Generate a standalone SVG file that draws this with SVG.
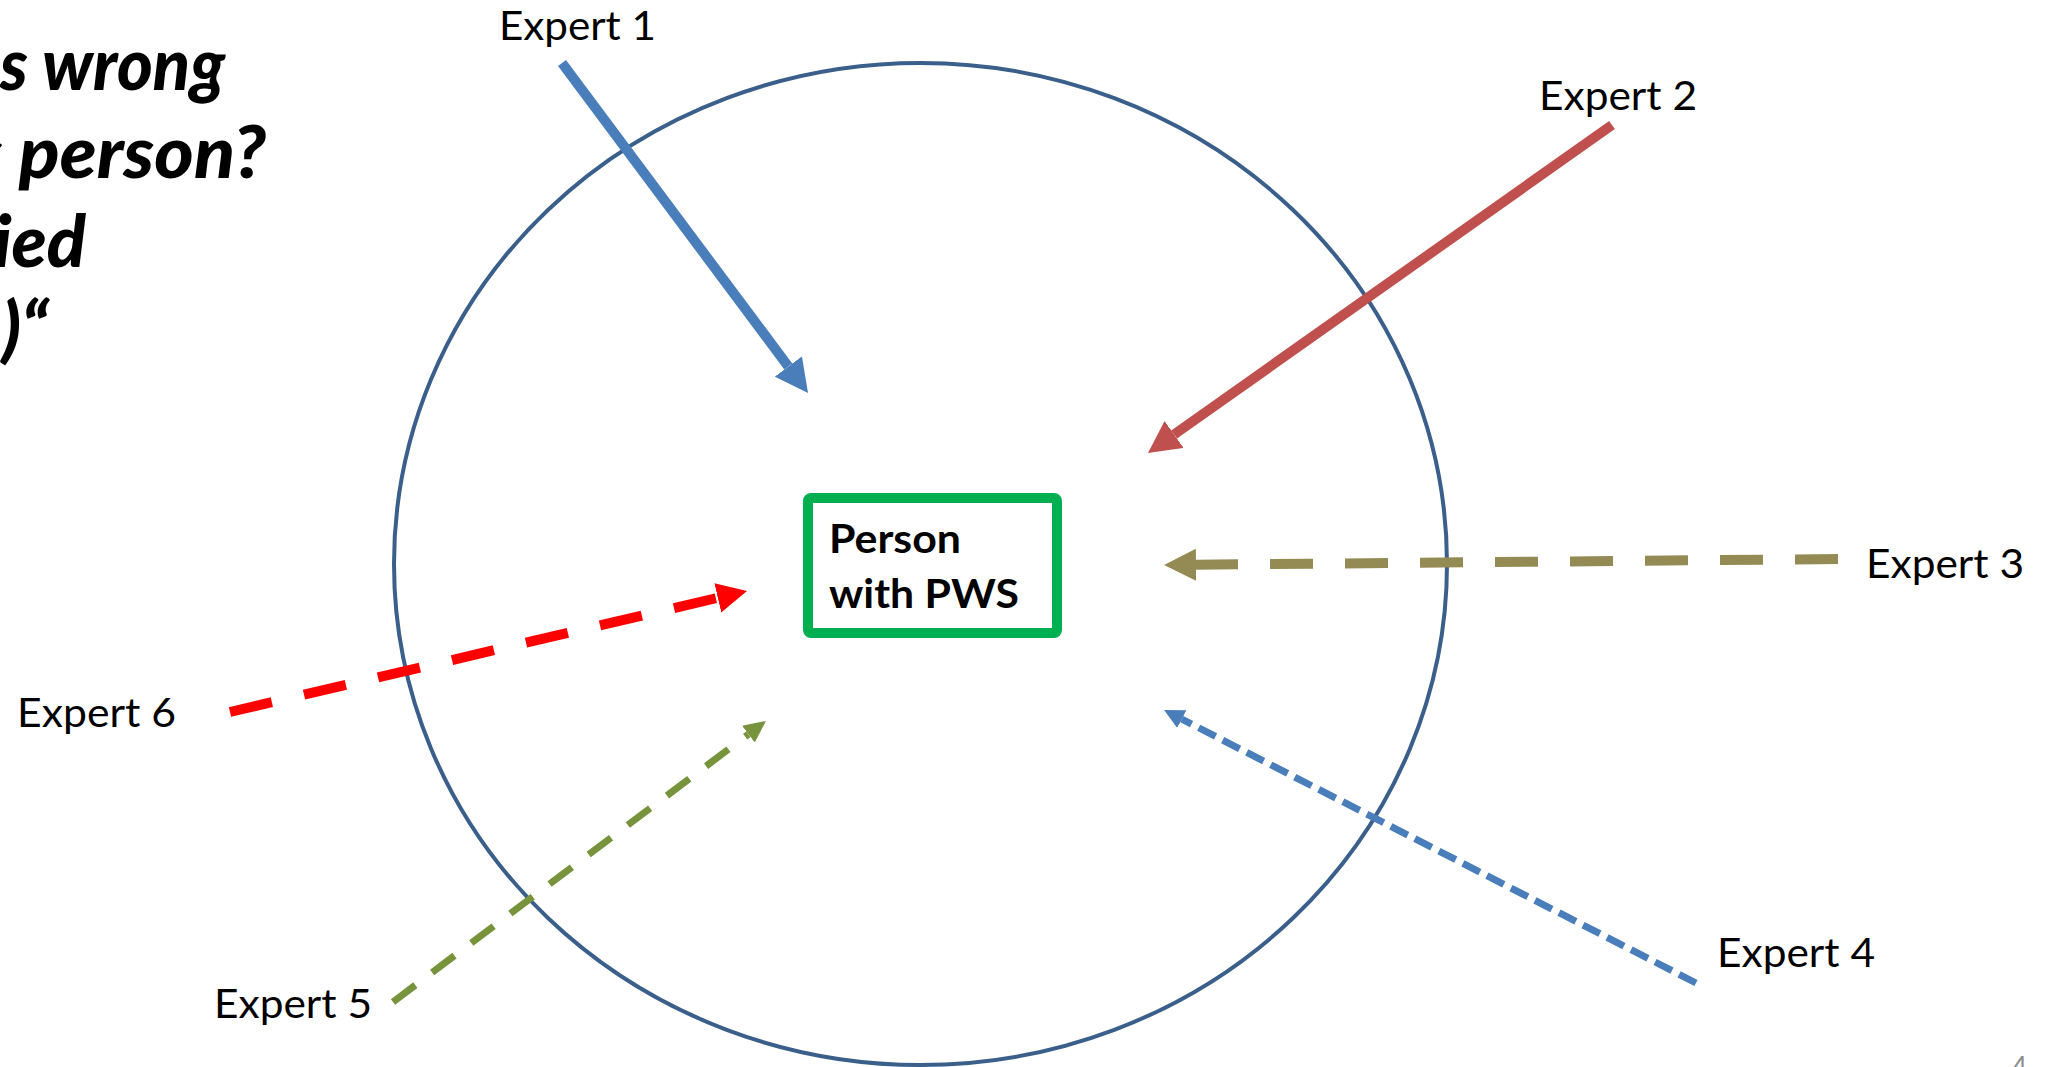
<svg xmlns="http://www.w3.org/2000/svg" width="2055" height="1067" viewBox="0 0 2055 1067">
<style>
.title{font-family:Lato,"Liberation Sans",sans-serif;font-weight:900;font-style:italic;font-size:72px;fill:#000}
.lbl{font-family:Lato,"Liberation Sans",sans-serif;font-size:40px;fill:#000}
.box{font-family:Lato,"Liberation Sans",sans-serif;font-weight:bold;font-size:40px;fill:#000}
.con{fill:none;stroke-linecap:butt}
</style>
<defs>
<marker id="mBlue" markerUnits="userSpaceOnUse" markerWidth="34" markerHeight="34" refX="0" refY="17" orient="auto"><path d="M0,0 L33,17 L0,34 Z" fill="#4A7EBB"/></marker>
<marker id="mRed" markerUnits="userSpaceOnUse" markerWidth="33" markerHeight="33" refX="0" refY="16.5" orient="auto"><path d="M0,0 L32,16.5 L0,33 Z" fill="#C0504D"/></marker>
<marker id="mOlive" markerUnits="userSpaceOnUse" markerWidth="33" markerHeight="33" refX="0" refY="16" orient="auto"><path d="M0,0 L32,16 L0,32 Z" fill="#948A54"/></marker>
<marker id="mBlueS" markerUnits="userSpaceOnUse" markerWidth="21" markerHeight="21" refX="0" refY="10" orient="auto"><path d="M0,0 L20,10 L0,20 Z" fill="#4A7EBB"/></marker>
<marker id="mGreen" markerUnits="userSpaceOnUse" markerWidth="23" markerHeight="22" refX="0" refY="10.5" orient="auto"><path d="M0,0 L22,10.5 L0,21 Z" fill="#77933C"/></marker>
<marker id="mRedB" markerUnits="userSpaceOnUse" markerWidth="31" markerHeight="31" refX="0" refY="15" orient="auto"><path d="M0,0 L30,15 L0,30 Z" fill="#FF0000"/></marker>
</defs>
<rect width="2055" height="1067" fill="#fff"/>
<g id="title">
<text class="title" x="0" y="90" textLength="225" lengthAdjust="spacingAndGlyphs">s wrong</text>
<text class="title" x="-28" y="178" textLength="294" lengthAdjust="spacingAndGlyphs">s person?</text>
<text class="title" x="86" y="267" text-anchor="end">ied</text>
<text class="title" x="48" y="354" text-anchor="end">)“</text>
</g>
<g id="circle"><ellipse cx="920.5" cy="564" rx="526.5" ry="501" fill="none" stroke="#3A5F8B" stroke-width="4"/></g>
<g id="connectors">
<line class="con" x1="562" y1="63" x2="788.3" y2="366.5" stroke="#4A7EBB" stroke-width="10" marker-end="url(#mBlue)"/>
<line class="con" x1="1612" y1="125" x2="1174.1" y2="434.5" stroke="#C0504D" stroke-width="10" marker-end="url(#mRed)"/>
<line class="con" x1="1838" y1="559" x2="1196" y2="564.7" stroke="#948A54" stroke-width="10" stroke-dasharray="43 32" marker-end="url(#mOlive)"/>
<line class="con" x1="1696" y1="983" x2="1181.8" y2="719.1" stroke="#4A7EBB" stroke-width="7" stroke-dasharray="19 8" marker-end="url(#mBlueS)"/>
<line class="con" x1="393" y1="1002" x2="748.4" y2="734.2" stroke="#77933C" stroke-width="7" stroke-dasharray="28 21" marker-end="url(#mGreen)"/>
<line class="con" x1="230" y1="712" x2="717.8" y2="597.8" stroke="#FF0000" stroke-width="10" stroke-dasharray="43 33" marker-end="url(#mRedB)"/>
</g>
<g id="person">
<rect x="808" y="498" width="249" height="135" rx="3" fill="#fff" stroke="#00B050" stroke-width="10"/>
<text class="box" x="829" y="553" textLength="132" lengthAdjust="spacingAndGlyphs">Person</text>
<text class="box" x="829" y="608" textLength="190" lengthAdjust="spacingAndGlyphs">with PWS</text>
</g>
<g id="expert1"><text class="lbl" x="499" y="40" textLength="157" lengthAdjust="spacingAndGlyphs">Expert 1</text></g>
<g id="expert2"><text class="lbl" x="1539" y="110" textLength="158" lengthAdjust="spacingAndGlyphs">Expert 2</text></g>
<g id="expert3"><text class="lbl" x="1866" y="578" textLength="158" lengthAdjust="spacingAndGlyphs">Expert 3</text></g>
<g id="expert4"><text class="lbl" x="1717" y="967" textLength="158" lengthAdjust="spacingAndGlyphs">Expert 4</text></g>
<g id="expert5"><text class="lbl" x="214" y="1018" textLength="158" lengthAdjust="spacingAndGlyphs">Expert 5</text></g>
<g id="expert6"><text class="lbl" x="17" y="727" textLength="159" lengthAdjust="spacingAndGlyphs">Expert 6</text></g>
<g id="page"><text x="2012" y="1076" font-family="Lato,'Liberation Sans',sans-serif" font-size="26" fill="#8C8C8C">4</text></g>
</svg>
